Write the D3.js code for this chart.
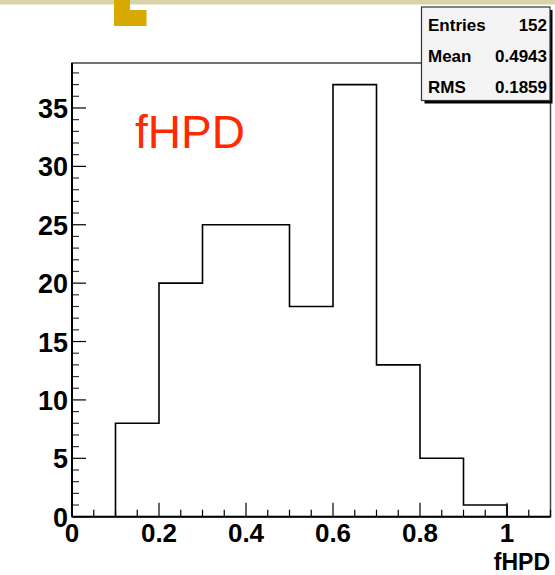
<!DOCTYPE html>
<html><head><meta charset="utf-8">
<script src="https://cdn.jsdelivr.net/npm/d3@7"></script>
<style>body{margin:0;background:#fff}svg{display:block}</style>
</head><body>
<script>
const binLow = [0.0,0.1,0.2,0.3,0.4,0.5,0.6,0.7,0.8,0.9,1.0];
const binWidth = 0.1;
const counts = [0,8,20,25,25,18,37,13,5,1,0];
const xTicks = [0,0.2,0.4,0.6,0.8,1];
const xTickLabels = ["0","0.2","0.4","0.6","0.8","1"];
const yTicks = [0,5,10,15,20,25,30,35];
const statNames = ["Entries","Mean","RMS"];
const statValues = ["152","0.4943","0.1859"];
const title = "fHPD";
const axisTitle = "fHPD";

const W=555,H=575;
const svg=d3.select("body").append("svg").attr("width",W).attr("height",H);
const font="'Liberation Sans', Helvetica, Arial, sans-serif";

// decoration at top
svg.append("rect").attr("x",0).attr("y",0).attr("width",W).attr("height",4.5).attr("fill","#d8d3a8");
svg.append("rect").attr("x",114).attr("y",0).attr("width",16).attr("height",26).attr("fill","#d8a900");
svg.append("rect").attr("x",129.5).attr("y",10).attr("width",17).attr("height",16).attr("fill","#d8a900");

const x=d3.scaleLinear().domain([0,1.1]).range([72,550.5]);
const y=d3.scaleLinear().domain([0,38.85]).range([516.7,63]);

// frame
svg.append("rect").attr("x",x(0)).attr("y",y(38.85)).attr("width",x(1.1)-x(0)).attr("height",y(0)-y(38.85))
  .attr("fill","none").attr("stroke","#444").attr("stroke-width",1.5);

// histogram
const pts=[];
const first=counts.findIndex(c=>c>0);
let last=counts.length-1; while(counts[last]===0) last--;
pts.push([binLow[first],0]);
for(let i=first;i<=last;i++){pts.push([binLow[i],counts[i]]);pts.push([binLow[i]+binWidth,counts[i]]);}
pts.push([binLow[last]+binWidth,0]);
svg.append("path").attr("d",d3.line().x(d=>x(d[0])).y(d=>y(d[1]))(pts))
  .attr("fill","none").attr("stroke","#000").attr("stroke-width",1.6);

// x axis ticks
const gx=svg.append("g");
d3.range(0,1.1001,0.05).forEach(v=>{
  const major = Math.abs(v/0.2-Math.round(v/0.2))<1e-6;
  gx.append("line").attr("x1",x(v)).attr("x2",x(v)).attr("y1",y(0)).attr("y2",y(0)-(major?14:7))
   .attr("stroke","#000").attr("stroke-width",1.2);
});
gx.selectAll("text.xl").data(xTicks).enter().append("text").attr("class","xl")
  .attr("x",d=>x(d)).attr("y",542).attr("text-anchor","middle")
  .attr("font-family",font).attr("font-weight","bold").attr("font-size",26)
  .text((d,i)=>xTickLabels[i]);

// y axis ticks
const gy=svg.append("g");
d3.range(0,39,1).forEach(v=>{
  const major=v%5===0;
  gy.append("line").attr("x1",x(0)).attr("x2",x(0)+(major?14:7)).attr("y1",y(v)).attr("y2",y(v))
   .attr("stroke",major?"#000":"#333").attr("stroke-width",1.2);
});
gy.selectAll("text.yl").data(yTicks).enter().append("text").attr("class","yl")
  .attr("x",68).attr("y",d=>y(d)+10).attr("text-anchor","end")
  .attr("font-family",font).attr("font-weight","bold").attr("font-size",27)
  .text(d=>d);

// axis lines
svg.append("line").attr("x1",x(0)).attr("x2",x(1.1)).attr("y1",y(0)).attr("y2",y(0)).attr("stroke","#000").attr("stroke-width",2);
svg.append("line").attr("x1",x(0)).attr("x2",x(0)).attr("y1",y(0)).attr("y2",y(38.85)).attr("stroke","#000").attr("stroke-width",2);

// axis title
svg.append("text").attr("x",550).attr("y",570).attr("text-anchor","end")
  .attr("font-family",font).attr("font-weight","bold").attr("font-size",23).text(axisTitle);

// red label
svg.append("text").attr("x",135).attr("y",148).attr("font-family",font).attr("font-size",46)
  .attr("fill","#ff2a00").text(title);

// stats box
svg.append("rect").attr("x",424.5).attr("y",10).attr("width",128).attr("height",93.5).attr("fill","#000");
svg.append("rect").attr("x",421.5).attr("y",7).attr("width",128.5).attr("height",93.5).attr("fill","#f4f4f4").attr("stroke","#333").attr("stroke-width",1.2);
const sb=[30.5,62,93];
statNames.forEach((n,i)=>{
  svg.append("text").attr("x",428).attr("y",sb[i]).attr("font-family",font).attr("font-weight","bold").attr("font-size",17).text(n);
  svg.append("text").attr("x",547).attr("y",sb[i]).attr("text-anchor","end").attr("font-family",font).attr("font-weight","bold").attr("font-size",17).text(statValues[i]);
});
</script>
</body></html>
